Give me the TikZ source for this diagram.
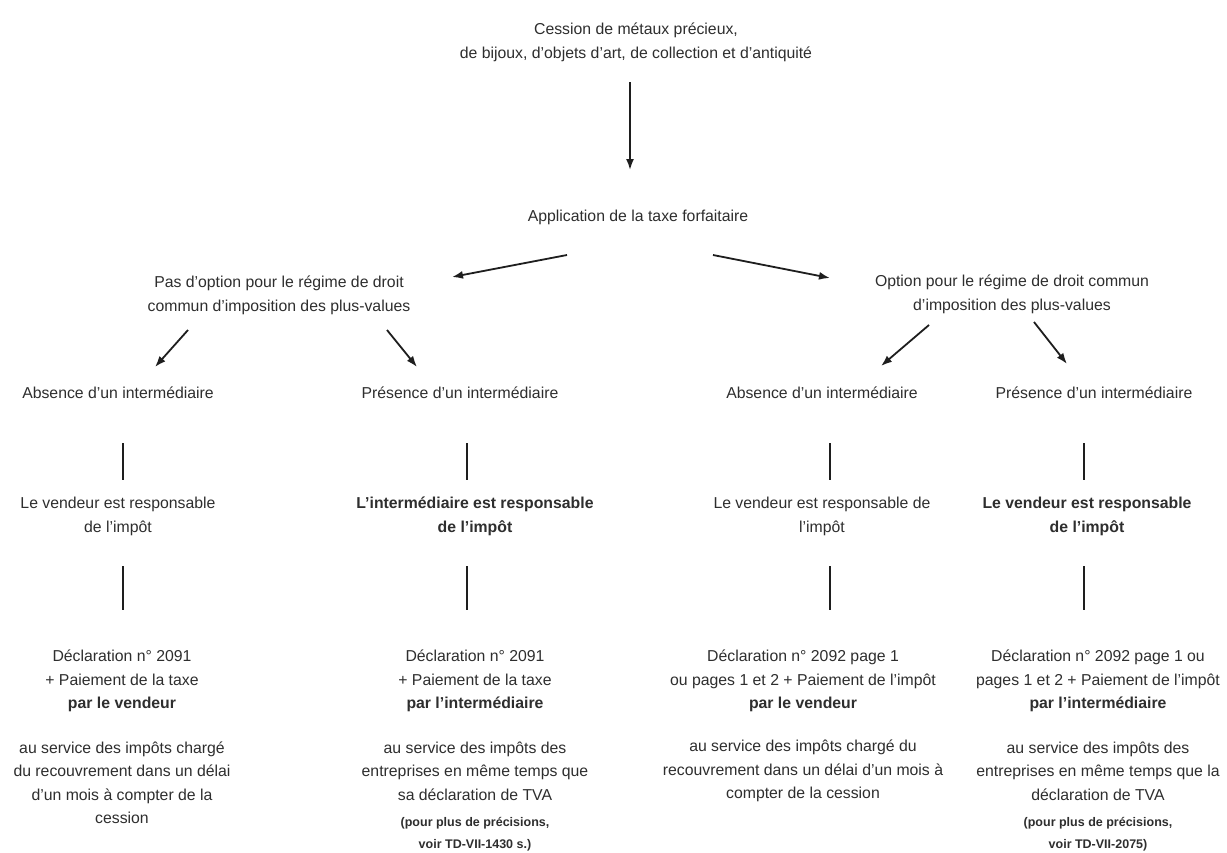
\documentclass[tikz,border=0pt]{standalone}
\usepackage{fontspec}
\setmainfont{Liberation Sans}
\usetikzlibrary{arrows.meta}
\definecolor{txt}{HTML}{2E2E2E}
\definecolor{ink}{HTML}{1E1E1E}
\begin{document}
\begin{tikzpicture}[x=1pt,y=-1pt,
  lbl/.style={align=center,inner sep=0pt,text=txt,font=\fontsize{15.8}{23.5}\selectfont},
  lblb/.style={lbl,font=\bfseries\fontsize{15.8}{23.5}\selectfont},
  note/.style={align=center,inner sep=0pt,text=txt,font=\bfseries\fontsize{12.5}{22}\selectfont},
  arr/.style={draw=ink,line width=1.8pt,-{Latex[length=11pt,width=8pt]}},
  vline/.style={draw=ink,line width=1.8pt}]
\fill[white] (0,0) rectangle (1227,852);
\useasboundingbox (0,0) rectangle (1227,852);

% texts
\node[lbl] (title) at (636,42.5) {Cession de métaux précieux,\\ de bijoux, d’objets d’art, de collection et d’antiquité};
\node[lbl] (app) at (638,217) {Application de la taxe forfaitaire};
\node[lbl] (pas) at (279,295.5) {Pas d’option pour le régime de droit\\ commun d’imposition des plus-values};
\node[lbl] (opt) at (1012,294.5) {Option pour le régime de droit commun\\ d’imposition des plus-values};

\node[lbl] (abs1) at (118,393) {Absence d’un intermédiaire};
\node[lbl] (pre1) at (460,393) {Présence d’un intermédiaire};
\node[lbl] (abs2) at (822,393) {Absence d’un intermédiaire};
\node[lbl] (pre2) at (1094,393) {Présence d’un intermédiaire};

\node[lbl] (resp1) at (118,516.5) {Le vendeur est responsable\\ de l’impôt};
\node[lblb] (resp2) at (475,516.5) {L’intermédiaire est responsable\\ de l’impôt};
\node[lbl] (resp3) at (822,516.5) {Le vendeur est responsable de\\ l’impôt};
\node[lblb] (resp4) at (1087,516.5) {Le vendeur est responsable\\ de l’impôt};

\node[lbl] (d1) at (122,681) {Déclaration n° 2091\\ + Paiement de la taxe\\ \textbf{par le vendeur}};
\node[lbl] (d2) at (475,681) {Déclaration n° 2091\\ + Paiement de la taxe\\ \textbf{par l’intermédiaire}};
\node[lbl] (d3) at (803,681) {Déclaration n° 2092 page 1\\ ou pages 1 et 2 + Paiement de l’impôt\\ \textbf{par le vendeur}};
\node[lbl] (d4) at (1098,681) {Déclaration n° 2092 page 1 ou\\ pages 1 et 2 + Paiement de l’impôt\\ \textbf{par l’intermédiaire}};

\node[lbl] (s1) at (122,782.5) {au service des impôts chargé\\ du recouvrement dans un délai\\ d’un mois à compter de la\\ cession};
\node[lbl] (s2) at (475,771) {au service des impôts des\\ entreprises en même temps que\\ sa déclaration de TVA};
\node[note] (n2) at (475,834) {(pour plus de précisions,\\ voir TD-VII-1430 s.)};
\node[lbl] (s3) at (803,771) {au service des impôts chargé du\\ recouvrement dans un délai d’un mois à\\ compter de la cession};
\node[lbl] (s4) at (1098,771) {au service des impôts des\\ entreprises en même temps que la\\ déclaration de TVA};
\node[note] (n4) at (1098,834) {(pour plus de précisions,\\ voir TD-VII-2075)};

% arrows
\draw[arr] ([shift={(-6,39.5)}]title.center) -- ([shift={(-8,-47)}]app.center);
\draw[arr] ([shift={(-71,38)}]app.center) -- ([shift={(173,-18.5)}]pas.center);
\draw[arr] ([shift={(75,38)}]app.center) -- ([shift={(-182,-16.5)}]opt.center);
\draw[arr] ([shift={(-91,34.5)}]pas.center) -- ([shift={(37,-26)}]abs1.center);
\draw[arr] ([shift={(108,34.5)}]pas.center) -- ([shift={(-43,-26)}]pre1.center);
\draw[arr] ([shift={(-83,30.5)}]opt.center) -- ([shift={(59,-27)}]abs2.center);
\draw[arr] ([shift={(22,27.5)}]opt.center) -- ([shift={(-27,-29)}]pre2.center);

% vertical lines level 3 -> level 4
\draw[vline] ([shift={(5,50)}]abs1.center) -- ([shift={(5,-36.5)}]resp1.center);
\draw[vline] ([shift={(7,50)}]pre1.center) -- ([shift={(-8,-36.5)}]resp2.center);
\draw[vline] ([shift={(8,50)}]abs2.center) -- ([shift={(8,-36.5)}]resp3.center);
\draw[vline] ([shift={(-10,50)}]pre2.center) -- ([shift={(-3,-36.5)}]resp4.center);

% vertical lines level 4 -> declarations
\draw[vline] ([shift={(5,49.5)}]resp1.center) -- ([shift={(1,-71)}]d1.center);
\draw[vline] ([shift={(-8,49.5)}]resp2.center) -- ([shift={(-8,-71)}]d2.center);
\draw[vline] ([shift={(8,49.5)}]resp3.center) -- ([shift={(27,-71)}]d3.center);
\draw[vline] ([shift={(-3,49.5)}]resp4.center) -- ([shift={(-14,-71)}]d4.center);
\end{tikzpicture}
\end{document}
